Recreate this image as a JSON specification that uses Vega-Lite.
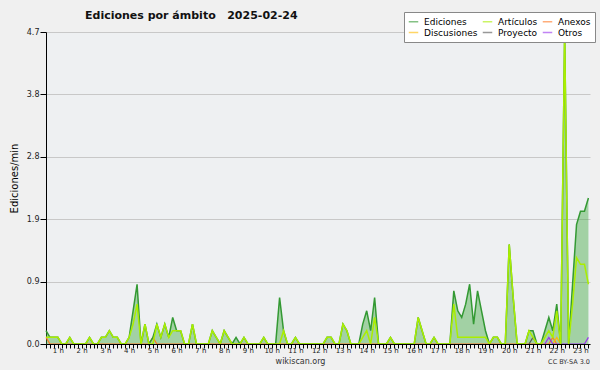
{
  "$schema": "https://vega.github.io/schema/vega-lite/v6.json",
  "width": 544,
  "height": 312,
  "autosize": {"type": "none"},
  "padding": {"left": 46, "top": 32, "right": 10, "bottom": 26},
  "background": "#f0f0f0",
  "title": {"text": "Ediciones por ámbito\u00a0\u00a0\u00a02025-02-24", "anchor": "start", "frame": "group", "dx": 39, "dy": 17, "fontSize": 11, "font": "DejaVu Sans", "fontWeight": "bold", "color": "#111111", "offset": 8},
  "config": {"view": {"fill": "#eef0f2", "stroke": null}, "font": "DejaVu Sans"},
  "datasets": {
    "main": [
      {"m": 30, "e": 0.2, "a": 0.1}, {"m": 40, "e": 0.1, "a": 0.1}, {"m": 50, "e": 0.1, "a": 0.1}, {"m": 60, "e": 0.1, "a": 0.1},
      {"m": 70, "e": 0, "a": 0}, {"m": 80, "e": 0, "a": 0}, {"m": 90, "e": 0.1, "a": 0.1}, {"m": 100, "e": 0, "a": 0},
      {"m": 110, "e": 0, "a": 0}, {"m": 120, "e": 0, "a": 0}, {"m": 130, "e": 0, "a": 0}, {"m": 140, "e": 0.1, "a": 0.1},
      {"m": 150, "e": 0, "a": 0}, {"m": 160, "e": 0, "a": 0}, {"m": 170, "e": 0.1, "a": 0.1}, {"m": 180, "e": 0.1, "a": 0.1},
      {"m": 190, "e": 0.2, "a": 0.2}, {"m": 200, "e": 0.1, "a": 0.1}, {"m": 210, "e": 0.1, "a": 0.1}, {"m": 220, "e": 0, "a": 0},
      {"m": 230, "e": 0, "a": 0}, {"m": 240, "e": 0.1, "a": 0.1}, {"m": 250, "e": 0.5, "a": 0.3}, {"m": 260, "e": 0.9, "a": 0.6},
      {"m": 270, "e": 0, "a": 0}, {"m": 280, "e": 0.3, "a": 0.3}, {"m": 290, "e": 0, "a": 0}, {"m": 300, "e": 0.1, "a": 0},
      {"m": 310, "e": 0.3, "a": 0.3}, {"m": 320, "e": 0.1, "a": 0.1}, {"m": 330, "e": 0.3, "a": 0.3}, {"m": 340, "e": 0.1, "a": 0.1},
      {"m": 350, "e": 0.4, "a": 0.2}, {"m": 360, "e": 0.2, "a": 0.2}, {"m": 370, "e": 0.2, "a": 0.2}, {"m": 380, "e": 0, "a": 0},
      {"m": 390, "e": 0, "a": 0}, {"m": 400, "e": 0.3, "a": 0.3}, {"m": 410, "e": 0, "a": 0}, {"m": 420, "e": 0, "a": 0},
      {"m": 430, "e": 0, "a": 0}, {"m": 440, "e": 0, "a": 0}, {"m": 450, "e": 0.2, "a": 0.2}, {"m": 460, "e": 0.1, "a": 0.1},
      {"m": 470, "e": 0, "a": 0}, {"m": 480, "e": 0.2, "a": 0.2}, {"m": 490, "e": 0.1, "a": 0.1}, {"m": 500, "e": 0, "a": 0},
      {"m": 510, "e": 0.1, "a": 0}, {"m": 520, "e": 0, "a": 0}, {"m": 530, "e": 0.1, "a": 0.1}, {"m": 540, "e": 0, "a": 0},
      {"m": 550, "e": 0, "a": 0}, {"m": 560, "e": 0, "a": 0}, {"m": 570, "e": 0, "a": 0}, {"m": 580, "e": 0.1, "a": 0.1},
      {"m": 590, "e": 0, "a": 0}, {"m": 600, "e": 0, "a": 0}, {"m": 610, "e": 0, "a": 0}, {"m": 620, "e": 0.7, "a": 0},
      {"m": 630, "e": 0.2, "a": 0.2}, {"m": 640, "e": 0, "a": 0}, {"m": 650, "e": 0, "a": 0}, {"m": 660, "e": 0.1, "a": 0.1},
      {"m": 670, "e": 0, "a": 0}, {"m": 680, "e": 0, "a": 0}, {"m": 690, "e": 0, "a": 0}, {"m": 700, "e": 0, "a": 0},
      {"m": 710, "e": 0, "a": 0}, {"m": 720, "e": 0, "a": 0}, {"m": 730, "e": 0, "a": 0}, {"m": 740, "e": 0.1, "a": 0.1},
      {"m": 750, "e": 0.1, "a": 0.1}, {"m": 760, "e": 0, "a": 0}, {"m": 770, "e": 0, "a": 0}, {"m": 780, "e": 0.3, "a": 0.3},
      {"m": 790, "e": 0.2, "a": 0.2}, {"m": 800, "e": 0, "a": 0}, {"m": 810, "e": 0, "a": 0}, {"m": 820, "e": 0, "a": 0},
      {"m": 830, "e": 0.3, "a": 0.1}, {"m": 840, "e": 0.5, "a": 0.2}, {"m": 850, "e": 0.2, "a": 0}, {"m": 860, "e": 0.7, "a": 0.4},
      {"m": 870, "e": 0, "a": 0}, {"m": 880, "e": 0, "a": 0}, {"m": 890, "e": 0, "a": 0}, {"m": 900, "e": 0.1, "a": 0.1},
      {"m": 910, "e": 0, "a": 0}, {"m": 920, "e": 0, "a": 0}, {"m": 930, "e": 0, "a": 0}, {"m": 940, "e": 0, "a": 0},
      {"m": 950, "e": 0, "a": 0}, {"m": 960, "e": 0, "a": 0}, {"m": 970, "e": 0.4, "a": 0.4}, {"m": 980, "e": 0.2, "a": 0.2},
      {"m": 990, "e": 0, "a": 0}, {"m": 1000, "e": 0, "a": 0}, {"m": 1010, "e": 0.1, "a": 0.1}, {"m": 1020, "e": 0, "a": 0},
      {"m": 1030, "e": 0, "a": 0}, {"m": 1040, "e": 0, "a": 0}, {"m": 1050, "e": 0, "a": 0}, {"m": 1060, "e": 0.8, "a": 0.6},
      {"m": 1070, "e": 0.5, "a": 0.1}, {"m": 1080, "e": 0.4, "a": 0.1}, {"m": 1090, "e": 0.6, "a": 0.1}, {"m": 1100, "e": 0.9, "a": 0.1},
      {"m": 1110, "e": 0.3, "a": 0.1}, {"m": 1120, "e": 0.8, "a": 0.1}, {"m": 1130, "e": 0.5, "a": 0.1}, {"m": 1140, "e": 0.2, "a": 0.1},
      {"m": 1150, "e": 0, "a": 0}, {"m": 1160, "e": 0.1, "a": 0.1}, {"m": 1170, "e": 0.1, "a": 0.1}, {"m": 1180, "e": 0, "a": 0},
      {"m": 1190, "e": 0, "a": 0}, {"m": 1200, "e": 1.5, "a": 1.5}, {"m": 1210, "e": 0.7, "a": 0.7}, {"m": 1220, "e": 0, "a": 0},
      {"m": 1230, "e": 0, "a": 0}, {"m": 1240, "e": 0, "a": 0}, {"m": 1250, "e": 0.2, "a": 0.2}, {"m": 1260, "e": 0.2, "a": 0.1},
      {"m": 1270, "e": 0, "a": 0}, {"m": 1280, "e": 0, "a": 0}, {"m": 1290, "e": 0.2, "a": 0.1}, {"m": 1300, "e": 0.4, "a": 0.2},
      {"m": 1310, "e": 0.2, "a": 0.1}, {"m": 1320, "e": 0.6, "a": 0.5}, {"m": 1330, "e": 0, "a": 0}, {"m": 1340, "e": 4.7, "a": 4.7},
      {"m": 1350, "e": 0, "a": 0}, {"m": 1360, "e": 0.9, "a": 0.6}, {"m": 1370, "e": 1.8, "a": 1.3}, {"m": 1380, "e": 2.0, "a": 1.2},
      {"m": 1390, "e": 2.0, "a": 1.2}, {"m": 1400, "e": 2.2, "a": 0.9}
    ],
    "minor": [
      {"serie": "Anexos", "m": 30, "v": 0.1}, {"serie": "Anexos", "m": 40, "v": 0}, {"serie": "Anexos", "m": 290, "v": 0},
      {"serie": "Anexos", "m": 300, "v": 0.1}, {"serie": "Anexos", "m": 310, "v": 0}, {"serie": "Anexos", "m": 1300, "v": 0},
      {"serie": "Anexos", "m": 1310, "v": 0.1}, {"serie": "Anexos", "m": 1320, "v": 0},
      {"serie": "Discusiones", "m": 1310, "v": 0}, {"serie": "Discusiones", "m": 1320, "v": 0.1}, {"serie": "Discusiones", "m": 1330, "v": 0},
      {"serie": "Proyecto", "m": 1250, "v": 0}, {"serie": "Proyecto", "m": 1260, "v": 0.1}, {"serie": "Proyecto", "m": 1270, "v": 0},
      {"serie": "Otros", "m": 1290, "v": 0}, {"serie": "Otros", "m": 1300, "v": 0.1}, {"serie": "Otros", "m": 1310, "v": 0},
      {"serie": "Otros", "m": 1390, "v": 0}, {"serie": "Otros", "m": 1400, "v": 0.1}
    ]
  },
  "layer": [
    {
      "data": {"name": "main"},
      "mark": {"type": "area", "color": "#44aa44", "opacity": 0.45},
      "encoding": {
        "x": {"field": "m", "type": "quantitative", "scale": {"domain": [30, 1404], "nice": false, "zero": false},
          "axis": {"title": "wikiscan.org", "tickCount": 137,
            "labelExpr": "datum.value % 60 === 0 ? (datum.value / 60) + ' h' : ''",
            "labelOverlap": false, "labelFlush": false, "labelFontSize": 7, "labelColor": "#222222", "labelPadding": -2,
            "tickSize": 4, "tickColor": "#000000", "domainColor": "#000000", "grid": false, "zindex": 1,
            "titleFontSize": 8, "titleFontWeight": "normal", "titleColor": "#333333", "titleX": 254, "titleY": 17, "titleBaseline": "middle"}},
        "y": {"field": "e", "type": "quantitative", "scale": {"domain": [0, 4.7], "nice": false},
          "axis": {"title": "Ediciones/min",
            "values": [0, 0.235, 0.47, 0.705, 0.94, 1.175, 1.41, 1.645, 1.88, 2.115, 2.35, 2.585, 2.82, 3.055, 3.29, 3.525, 3.76, 3.995, 4.23, 4.465, 4.7],
            "labelExpr": "abs(datum.value / 0.94 - round(datum.value / 0.94)) < 0.01 ? format(datum.value, '.1f') : ''",
            "labelOverlap": false, "labelFontSize": 8, "labelColor": "#222222", "labelPadding": 1,
            "tickSize": {"condition": {"test": "abs(datum.value / 0.94 - round(datum.value / 0.94)) < 0.01", "value": 6}, "value": 3},
            "gridOpacity": {"condition": {"test": "abs(datum.value / 0.94 - round(datum.value / 0.94)) < 0.01", "value": 1}, "value": 0},
            "gridColor": "#c8c8c8", "tickColor": "#000000", "domainColor": "#000000",
            "titleFontSize": 10, "titleFontWeight": "normal", "titleColor": "#000000", "titleX": -32, "titleY": 146,
            "titleAlign": "center", "titleBaseline": "middle"}}
      }
    },
    {
      "data": {"name": "minor"},
      "mark": {"type": "line", "strokeWidth": 1.2},
      "encoding": {
        "x": {"field": "m", "type": "quantitative"},
        "y": {"field": "v", "type": "quantitative"},
        "color": {"field": "serie", "type": "nominal",
          "scale": {"domain": ["Ediciones", "Artículos", "Anexos", "Discusiones", "Proyecto", "Otros"],
                    "range": ["#339933", "#aaee00", "#ff7722", "#ffbb00", "#555555", "#9933ee"]},
          "legend": {"title": null, "orient": "none", "legendX": 358, "legendY": -20, "columns": 3, "direction": "horizontal",
            "gridAlign": "each",
            "symbolType": "stroke", "symbolSize": 90, "symbolStrokeWidth": 1.5, "symbolOpacity": 0.6,
            "labelFontSize": 9, "labelFont": "DejaVu Sans", "labelColor": "#000000", "labelOffset": 5,
            "columnPadding": 1, "rowPadding": 0, "padding": 4, "fillColor": "#ffffff", "strokeColor": "#888888", "cornerRadius": 0}}
      }
    },
    {
      "data": {"name": "main"},
      "mark": {"type": "line", "strokeWidth": 1.5},
      "encoding": {
        "x": {"field": "m", "type": "quantitative"},
        "y": {"field": "e", "type": "quantitative"},
        "color": {"datum": "Ediciones"}
      }
    },
    {
      "data": {"name": "main"},
      "mark": {"type": "line", "strokeWidth": 1.5},
      "encoding": {
        "x": {"field": "m", "type": "quantitative"},
        "y": {"field": "a", "type": "quantitative"},
        "color": {"datum": "Artículos"}
      }
    },
    {
      "data": {"values": [{}]},
      "mark": {"type": "text", "align": "right", "baseline": "middle", "fontSize": 6.5, "color": "#333333", "text": "CC BY-SA 3.0"},
      "encoding": {
        "x": {"datum": 1404},
        "y": {"datum": -0.27}
      }
    }
  ]
}
